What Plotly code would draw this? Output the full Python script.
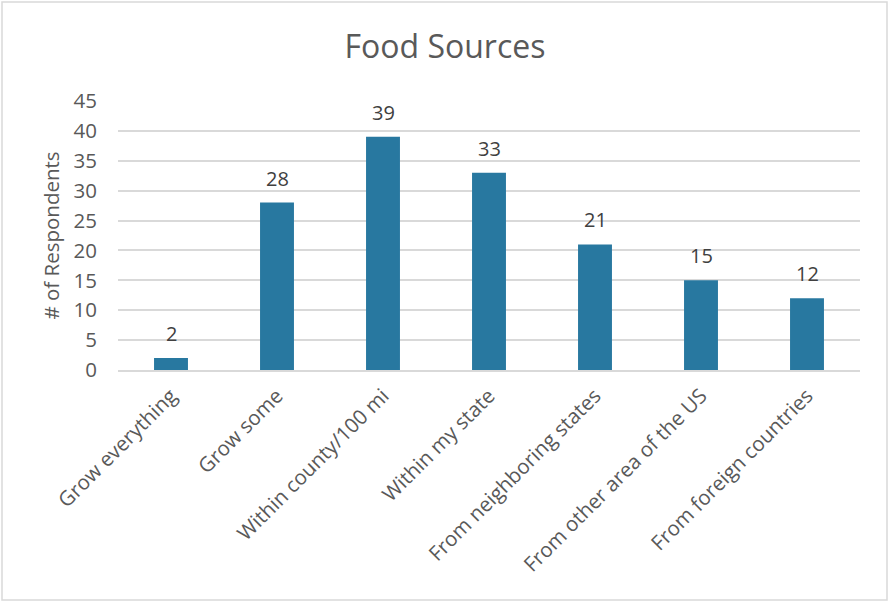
import plotly.graph_objects as go

categories = ["Grow everything", "Grow some", "Within county/100 mi", "Within my state",
              "From neighboring states", "From other area of the US", "From foreign countries"]
values = [2, 28, 39, 33, 21, 15, 12]
y_ticks = [0, 5, 10, 15, 20, 25, 30, 35, 40, 45]

FONT = "Open Sans"
GREY = "#595959"
L, R, T, B = 118, 30, 101, 233
W, H = 890, 603
pw, ph = W - L - R, H - T - B

fig = go.Figure()
fig.add_trace(go.Bar(x=categories, y=values, marker=dict(color="#2878a0", line=dict(width=0)),
                     width=0.32, hoverinfo="x+y"))

for c, v in zip(categories, values):
    fig.add_annotation(x=c, y=v, text=str(v), showarrow=False, yanchor="bottom", yshift=9,
                       font=dict(family=FONT, size=20, color="#404040"))

fig.add_shape(type="rect", xref="paper", yref="paper",
              x0=(2 - L) / pw, x1=(887 - L) / pw,
              y0=(H - B - 600) / ph, y1=(H - B - 2) / ph,
              line=dict(color="#d9d9d9", width=1.5), layer="below")

fig.update_layout(
    width=W, height=H,
    margin=dict(l=L, r=R, t=T, b=B, autoexpand=False),
    paper_bgcolor="white", plot_bgcolor="white",
    showlegend=False,
    title=dict(text="Food Sources", x=0.5, xanchor="center", y=1 - 47 / H, yanchor="middle",
               xref="container", font=dict(family=FONT, size=32, color=GREY)),
    font=dict(family=FONT, color=GREY),
    bargap=0.68,
)
fig.update_xaxes(tickangle=-45, tickfont=dict(family=FONT, size=20.5, color=GREY),
                 showline=True, linecolor="#d9d9d9", linewidth=1.5, ticks="", showgrid=False,
                 ticklabelstandoff=4)
fig.update_yaxes(range=[0, 45], tickvals=y_ticks, ticktext=[str(t) for t in y_ticks],
                 tickfont=dict(family=FONT, size=20.5, color=GREY),
                 showgrid=True, gridcolor="#d9d9d9", gridwidth=1.5, zeroline=False,
                 ticks="", ticklen=0, ticklabelstandoff=20,
                 title=dict(text="# of Respondents", standoff=8,
                            font=dict(family=FONT, size=20.5, color=GREY)))

fig.write_html("out.html")
